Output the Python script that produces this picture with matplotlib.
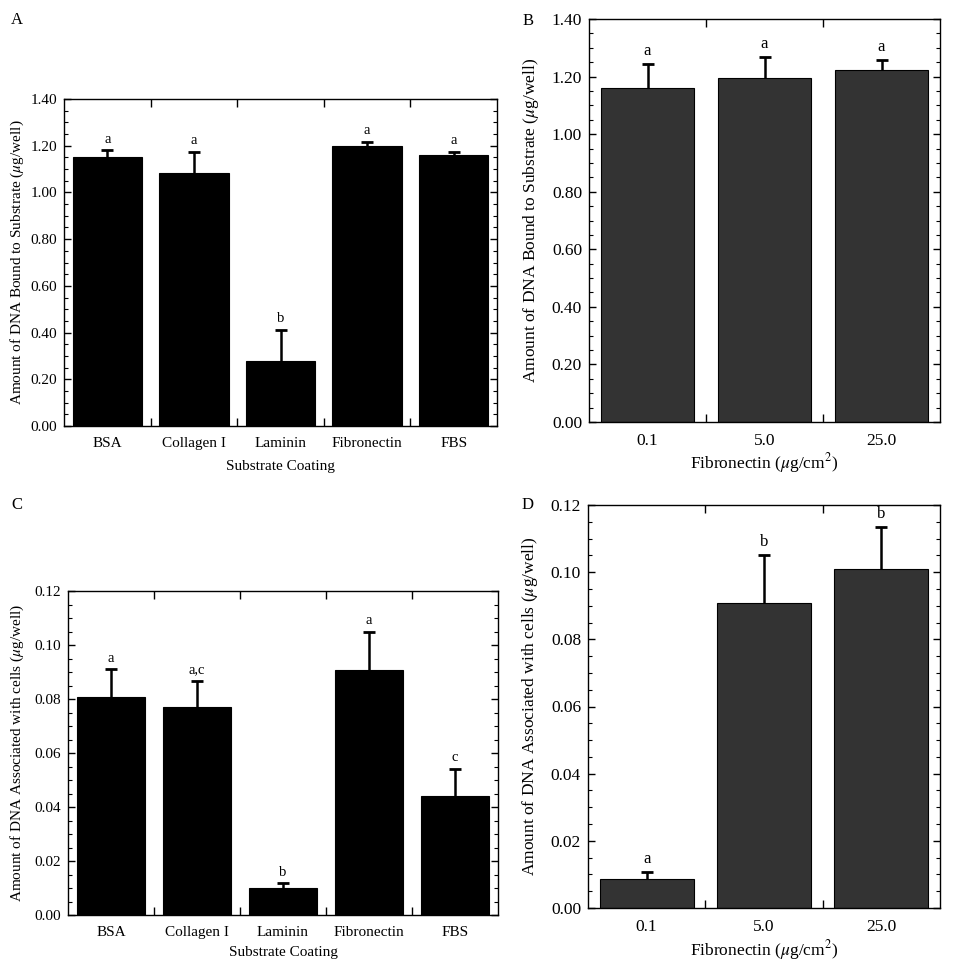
import matplotlib
matplotlib.use("Agg")
import matplotlib.pyplot as plt
from matplotlib.ticker import MultipleLocator, FixedLocator

plt.rcParams['font.family'] = ['Liberation Serif', 'DejaVu Serif']
plt.rcParams['mathtext.fontset'] = 'stix'

# data
coatings = ['BSA', 'Collagen I', 'Laminin', 'Fibronectin', 'FBS']
fn_conc = ['0.1', '5.0', '25.0']

bound_coat = [1.153, 1.084, 0.280, 1.198, 1.161]
bound_coat_err = [0.028, 0.089, 0.133, 0.019, 0.014]
bound_coat_sig = ['a', 'a', 'b', 'a', 'a']

bound_fn = [1.162, 1.194, 1.222]
bound_fn_err = [0.080, 0.074, 0.035]
bound_fn_sig = ['a', 'a', 'a']

cells_coat = [0.0808, 0.0770, 0.0099, 0.0909, 0.0439]
cells_coat_err = [0.0102, 0.0098, 0.0019, 0.0139, 0.0102]
cells_coat_sig = ['a', 'a,c', 'b', 'a', 'c']

cells_fn = [0.0086, 0.0909, 0.1008]
cells_fn_err = [0.0021, 0.0141, 0.0126]
cells_fn_sig = ['a', 'b', 'b']

W, H = 957, 976
fig = plt.figure(figsize=(W / 100, H / 100), dpi=100)


def px_axes(l, r, t, b):
    return fig.add_axes([l / W, 1 - b / H, (r - l) / W, (b - t) / H])


def panel(ax, cats, vals, errs, sig, color, ymax, ystep, yfmt, ylabel, xlabel,
          fs, ylab_x, xlab_y, sig_off):
    x = list(range(len(cats)))
    ax.bar(x, vals, width=0.8, color=color, edgecolor='black', linewidth=0.8, zorder=2)
    eb = ax.errorbar(x, vals, yerr=[[0] * len(errs), errs], fmt='none', ecolor='black',
                     elinewidth=1.8, capsize=4, capthick=2, zorder=3)
    # only the upper cap is drawn in the original
    for cap in eb[1]:
        if list(cap.get_ydata()) == list(vals):
            cap.set_visible(False)
    for xi, v, e, s in zip(x, vals, errs, sig):
        ax.annotate(s, (xi, v + e), xytext=(0, sig_off), textcoords='offset points',
                    ha='center', va='center', fontsize=fs - 0.5)
    ax.set_xlim(-0.5, len(cats) - 0.5)
    ax.set_ylim(0, ymax)
    ax.set_xticks(x)
    ax.set_xticklabels(cats, fontsize=fs)
    ax.xaxis.set_minor_locator(FixedLocator([i + 0.5 for i in range(len(cats) - 1)]))
    ax.yaxis.set_major_locator(MultipleLocator(ystep))
    ax.yaxis.set_minor_locator(MultipleLocator(ystep / 4))
    ax.set_yticklabels([yfmt.format(v) for v in ax.get_yticks()], fontsize=fs)
    ax.tick_params(axis='x', which='major', length=0, pad=8)
    ax.tick_params(axis='x', which='minor', direction='in', length=6, width=1,
                   top=True, bottom=True)
    ax.tick_params(axis='y', which='major', direction='in', length=5, width=1,
                   left=True, right=True, pad=5)
    ax.tick_params(axis='y', which='minor', direction='in', length=3, width=0.8,
                   left=True, right=True)
    for sp in ax.spines.values():
        sp.set_linewidth(1.0)
    ax.set_ylabel(ylabel, fontsize=fs, va='center')
    ax.yaxis.set_label_coords(ylab_x, 0.5)
    ax.set_xlabel(xlabel, fontsize=fs, va='center')
    ax.xaxis.set_label_coords(0.5, xlab_y)


axA = px_axes(64, 497, 99, 426)
panel(axA, coatings, bound_coat, bound_coat_err, bound_coat_sig, 'black', 1.4, 0.2,
      '{:.2f}', r'Amount of DNA Bound to Substrate ($\mu$g/well)', 'Substrate Coating',
      11, -0.108, -0.125, 8)

axB = px_axes(589, 940, 19, 422)
panel(axB, fn_conc, bound_fn, bound_fn_err, bound_fn_sig, '#333333', 1.4, 0.2,
      '{:.2f}', r'Amount of DNA Bound to Substrate ($\mu$g/well)',
      r'Fibronectin ($\mu$g/cm$^2$)', 12.5, -0.165, -0.102, 9.5)

axC = px_axes(68, 498, 591, 915)
panel(axC, coatings, cells_coat, cells_coat_err, cells_coat_sig, 'black', 0.12, 0.02,
      '{:.2f}', r'Amount of DNA Associated with cells ($\mu$g/well)', 'Substrate Coating',
      11, -0.119, -0.117, 8)

axD = px_axes(588, 940, 505, 908)
panel(axD, fn_conc, cells_fn, cells_fn_err, cells_fn_sig, '#333333', 0.12, 0.02,
      '{:.2f}', r'Amount of DNA Associated with cells ($\mu$g/well)',
      r'Fibronectin ($\mu$g/cm$^2$)', 12.5, -0.165, -0.104, 9.5)

for lab, xp, yp in [('A', 17, 20), ('B', 528, 21), ('C', 17, 505), ('D', 528, 505)]:
    fig.text(xp / W, 1 - yp / H, lab, ha='center', va='center', fontsize=12)

fig.savefig('out.png', dpi=100)
